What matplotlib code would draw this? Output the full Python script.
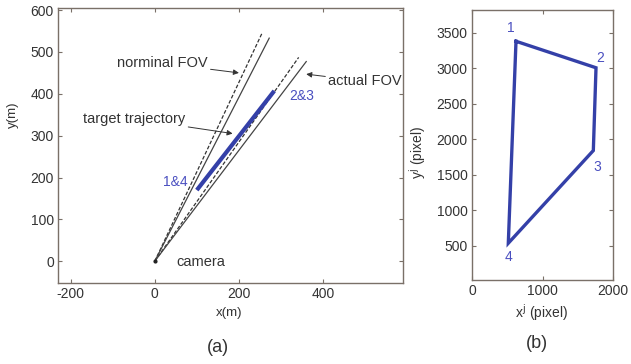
import matplotlib
matplotlib.use("Agg")
import matplotlib.pyplot as plt

plt.rcParams['font.family'] = ['Liberation Sans', 'DejaVu Sans']
plt.rcParams['axes.unicode_minus'] = False

# ---- data (a) ----
camera_xy = [0, 0]
nominal_fov_end_x = [255, 342]
nominal_fov_end_y = [545, 487]
actual_fov_end_x = [272, 360]
actual_fov_end_y = [533, 477]
traj_x = [100, 284]
traj_y = [170, 407]
a_xticks = [-200, 0, 200, 400]
a_yticks = [0, 100, 200, 300, 400, 500, 600]

# ---- data (b) ----
quad_labels = ['1', '2', '3', '4']
quad_x = [624, 1759, 1721, 515]
quad_y = [3380, 3007, 1842, 538]
b_xticks = [0, 1000, 2000]
b_yticks = [500, 1000, 1500, 2000, 2500, 3000, 3500]

BLUE = '#3440a8'
LBLUE = '#4a4fc0'
FRAME = '#7a7068'
TXT = '#333333'

fig = plt.figure(figsize=(6.31, 3.64), dpi=100)

def style(ax):
    for s in ax.spines.values():
        s.set_color(FRAME)
        s.set_linewidth(1.0)
    ax.tick_params(direction='in', top=True, right=True, length=3,
                   color=FRAME, labelsize=10, labelcolor=TXT, pad=3)

# ---------- (a) ----------
ax = fig.add_axes([58/631, 81/364, 345/631, 275/364])
style(ax)
for ex, ey in zip(nominal_fov_end_x, nominal_fov_end_y):
    ax.plot([camera_xy[0], ex], [camera_xy[1], ey], color='#333333', lw=0.9, ls=(0, (3, 1.5)))
for ex, ey in zip(actual_fov_end_x, actual_fov_end_y):
    ax.plot([camera_xy[0], ex], [camera_xy[1], ey], color='#444444', lw=0.9)
ax.plot(traj_x, traj_y, color=BLUE, lw=3.0, solid_capstyle='butt')
ax.plot([camera_xy[0]], [camera_xy[1]], 'o', color='#222222', ms=2)
ax.set_xlim(-230, 590)
ax.set_ylim(-52, 605)
ax.set_xticks(a_xticks)
ax.set_yticks(a_yticks)

ax.text(48, 190, '1&4', color=LBLUE, fontsize=10, ha='center', va='center')
ax.text(350, 395, '2&3', color=LBLUE, fontsize=10, ha='center', va='center')
ax.text(110, -2, 'camera', color=TXT, fontsize=10.5, ha='center', va='center')

arrowprops = dict(arrowstyle='-|>', color='#333333', lw=0.7, mutation_scale=8, shrinkA=0, shrinkB=0)
ax.annotate('norminal FOV', xy=(200, 450), xytext=(126, 473), fontsize=10.5, color=TXT,
            ha='right', va='center', arrowprops=arrowprops)
ax.annotate('actual FOV', xy=(360, 447), xytext=(412, 430), fontsize=10.5, color=TXT,
            ha='left', va='center', arrowprops=arrowprops)
ax.annotate('target trajectory', xy=(185, 305), xytext=(73, 340), fontsize=10.5, color=TXT,
            ha='right', va='center', arrowprops=arrowprops)

fig.text(229/631, 1 - 313/364, 'x(m)', fontsize=9.5, color=TXT, ha='center', va='center')
fig.text(13/631, 1 - 115/364, 'y(m)', fontsize=9.5, color=TXT, ha='center', va='center', rotation=90)
fig.text(218/631, 1 - 347/364, '(a)', fontsize=13, color=TXT, ha='center', va='center')

# ---------- (b) ----------
bx = fig.add_axes([472/631, 84/364, 141/631, 270/364])
style(bx)
bx.plot(quad_x + quad_x[:1], quad_y + quad_y[:1], color=BLUE, lw=2.4, solid_joinstyle='miter')
bx.set_xlim(0, 2000)
bx.set_ylim(20, 3820)
bx.set_xticks(b_xticks)
bx.set_yticks(b_yticks)
offsets = [(-70, 190), (60, 140), (50, -230), (0, -200)]
for lab, x, y, (dx, dy) in zip(quad_labels, quad_x, quad_y, offsets):
    bx.text(x + dx, y + dy, lab, color=LBLUE, fontsize=10, ha='center', va='center')

fig.text(541/631, 1 - 313/364, r'x$^{\mathrm{j}}$ (pixel)', fontsize=10, color=TXT, ha='center', va='center')
fig.text(418/631, 1 - 153/364, r'y$^{\mathrm{j}}$ (pixel)', fontsize=10, color=TXT, ha='center', va='center', rotation=90)
fig.text(537/631, 1 - 343/364, '(b)', fontsize=13, color=TXT, ha='center', va='center')

fig.savefig('out.png', dpi=100)
